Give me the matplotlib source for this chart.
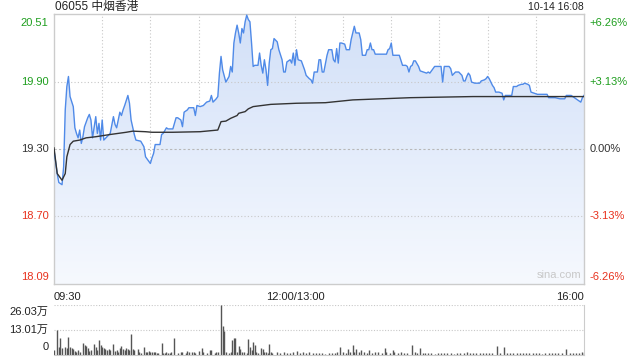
import matplotlib
matplotlib.use("Agg")
import matplotlib.pyplot as plt
import numpy as np
from matplotlib.colors import LinearSegmentedColormap
from matplotlib.patches import Polygon

plt.rcParams['font.family'] = ['Liberation Sans', 'Noto Sans CJK SC', 'DejaVu Sans']

# minutes since 09:30 (lunch break removed: 0..150 morning, 150..330 afternoon)
price_min = [0, 2, 3, 5, 6, 7, 8, 9, 10, 12, 13, 14, 15, 16, 17, 18, 19, 21, 22, 23, 24, 26, 27, 28, 29, 30,
             31, 33, 35, 37, 38, 39, 41, 42, 43, 44, 46, 47, 48, 50, 51, 54, 56, 57, 59, 60, 61, 62, 63, 66,
             67, 68, 70, 71, 74, 76, 77, 79, 80, 81, 83, 84, 87, 88, 89, 91, 93, 95, 97, 98, 99, 101, 102,
             103, 104, 105, 107, 109, 110, 111, 112, 113, 114, 115, 116, 117, 118, 119, 120, 121, 122, 123,
             124, 125, 127, 128, 129, 130, 131, 132, 133, 134, 135, 136, 137, 139, 140, 142, 143, 144, 145,
             147, 148, 149, 150, 151, 152, 154, 156, 157, 159, 160, 161, 162, 164, 165, 166, 167, 168, 170,
             171, 173, 174, 175, 176, 177, 178, 179, 181, 182, 184, 185, 187, 188, 190, 191, 192, 194, 195,
             196, 197, 198, 199, 200, 207, 208, 209, 210, 211, 215, 217, 219, 220, 221, 222, 223, 224, 225,
             227, 228, 230, 232, 233, 234, 235, 237, 241, 242, 243, 246, 247, 248, 250, 252, 254, 255, 256,
             257, 258, 259, 260, 262, 265, 266, 268, 269, 270, 271, 273, 274, 275, 277, 279, 280, 281, 285,
             286, 288, 289, 291, 292, 293, 295, 296, 297, 299, 301, 307, 308, 312, 315, 318, 319, 322, 324,
             325, 327, 328, 329, 330]
price = [19.29, 19.08, 19.00, 18.98, 19.14, 19.65, 19.86, 19.95, 19.77, 19.68, 19.49, 19.44, 19.40, 19.47,
         19.35, 19.41, 19.50, 19.58, 19.61, 19.56, 19.40, 19.59, 19.44, 19.53, 19.38, 19.56, 19.38, 19.41,
         19.44, 19.59, 19.52, 19.49, 19.63, 19.60, 19.65, 19.69, 19.78, 19.71, 19.56, 19.43, 19.38, 19.37,
         19.32, 19.23, 19.19, 19.17, 19.22, 19.26, 19.34, 19.34, 19.43, 19.44, 19.49, 19.48, 19.48, 19.58,
         19.58, 19.56, 19.50, 19.63, 19.65, 19.67, 19.67, 19.60, 19.69, 19.68, 19.69, 19.72, 19.73, 19.78,
         19.72, 19.75, 19.77, 19.98, 20.13, 20.01, 19.90, 19.95, 20.04, 19.99, 20.25, 20.34, 20.41, 20.34,
         20.25, 20.38, 20.34, 20.44, 20.50, 20.46, 20.44, 20.25, 20.04, 20.05, 20.05, 20.16, 20.05, 19.98,
         20.10, 20.01, 19.87, 20.07, 20.19, 20.20, 20.29, 20.26, 20.19, 20.10, 19.99, 19.99, 20.08, 20.10,
         20.07, 20.16, 20.05, 20.19, 20.10, 20.09, 20.01, 19.96, 19.93, 19.92, 19.89, 19.99, 19.99, 20.10,
         20.10, 19.99, 19.99, 20.14, 20.19, 20.19, 20.10, 20.08, 20.20, 20.07, 20.25, 20.25, 20.24, 20.19,
         20.19, 20.28, 20.40, 20.34, 20.34, 20.28, 20.14, 20.14, 20.19, 20.19, 20.25, 20.19, 20.19, 20.15,
         20.15, 20.19, 20.20, 20.25, 20.14, 20.14, 20.05, 20.05, 20.04, 19.99, 20.04, 20.05, 20.09, 20.09,
         20.04, 20.00, 19.99, 19.98, 19.99, 19.98, 20.00, 20.04, 20.04, 19.90, 20.04, 20.04, 20.02, 19.96,
         19.99, 19.99, 19.96, 19.91, 19.91, 19.95, 19.98, 19.96, 19.90, 19.89, 19.89, 19.91, 19.92, 19.93,
         19.95, 19.93, 19.87, 19.85, 19.81, 19.81, 19.80, 19.74, 19.78, 19.78, 19.86, 19.86, 19.87, 19.88,
         19.88, 19.89, 19.88, 19.87, 19.81, 19.80, 19.79, 19.79, 19.76, 19.76, 19.75, 19.75, 19.78, 19.78,
         19.76, 19.75, 19.73, 19.72, 19.76, 19.78]

avg_min = [0, 2, 5, 7, 8, 10, 12, 16, 20, 26, 35, 45, 49, 57, 61, 74, 91, 102, 104, 107, 110, 114, 115,
           119, 121, 124, 135, 151, 169, 186, 222, 261, 330]
avg = [19.31, 19.08, 19.02, 19.08, 19.23, 19.34, 19.37, 19.38, 19.40, 19.41, 19.43, 19.45, 19.46, 19.455,
       19.45, 19.45, 19.455, 19.47, 19.545, 19.55, 19.575, 19.60, 19.62, 19.635, 19.66, 19.68, 19.70, 19.71,
       19.715, 19.74, 19.76, 19.77, 19.77]

# volume in 万 shares
vol_min = [0, 2, 3, 4, 5, 7, 8, 9, 10, 11, 12, 13, 14, 15, 16, 18, 19, 20, 21, 22, 23, 25, 26, 27, 28, 29,
           30, 31, 32, 33, 34, 35, 37, 38, 39, 40, 41, 42, 43, 44, 45, 46, 47, 48, 49, 50, 52, 53, 54, 56,
           57, 58, 59, 60, 61, 62, 63, 64, 65, 67, 68, 69, 70, 71, 72, 73, 75, 77, 79, 80, 82, 83, 84, 86,
           87, 88, 90, 92, 93, 95, 97, 98, 100, 101, 102, 104, 105, 106, 107, 109, 110, 111, 112, 113, 114,
           115, 116, 117, 118, 120, 121, 122, 123, 124, 125, 126, 127, 129, 130, 131, 132, 133, 134, 135,
           136, 139, 141, 143, 145, 147, 149, 151, 153, 155, 157, 159, 161, 163, 165, 167, 169, 171, 173,
           175, 176, 178, 180, 182, 183, 184, 186, 187, 188, 190, 191, 193, 195, 196, 198, 200, 202, 204,
           206, 207, 209, 211, 212, 214, 216, 218, 220, 223, 225, 226, 228, 230, 231, 233, 235, 237, 239,
           241, 243, 245, 247, 249, 251, 253, 255, 257, 259, 261, 263, 265, 267, 269, 271, 273, 276, 278,
           280, 282, 284, 286, 288, 290, 292, 294, 296, 298, 300, 302, 304, 306, 308, 310, 312, 314, 316,
           319, 321, 323, 325, 327, 329, 330]
vol = [2.6, 13.0, 4.3, 9.0, 3.5, 4.3, 3.5, 9.5, 4.0, 3.5, 3.0, 2.0, 1.7, 2.6, 1.4, 6.4, 5.2, 4.7, 3.5, 2.0,
       2.6, 5.6, 4.3, 2.6, 7.8, 5.2, 4.3, 3.5, 3.0, 2.6, 3.0, 2.6, 5.7, 2.0, 2.6, 1.7, 3.5, 4.7, 3.0, 2.6,
       3.5, 3.0, 2.6, 10.9, 3.0, 2.6, 3.0, 1.7, 0.9, 4.3, 1.4, 1.7, 2.0, 1.4, 1.7, 1.7, 1.4, 0.9, 0.9, 6.1,
       0.9, 1.2, 1.4, 1.2, 0.9, 1.4, 8.7, 0.9, 1.4, 1.7, 0.9, 2.0, 1.4, 1.4, 1.7, 0.9, 2.0, 3.5, 1.4, 0.9,
       2.6, 2.6, 0.9, 1.4, 1.7, 26.03, 15.1, 12.7, 1.7, 0.9, 1.4, 7.8, 9.0, 8.7, 1.4, 4.9, 3.0, 1.4, 1.7,
       0.9, 8.2, 4.3, 2.6, 6.6, 5.2, 1.7, 0.9, 3.8, 3.0, 1.7, 1.4, 0.9, 5.6, 1.4, 0.9, 1.7, 0.9, 1.4, 1.2,
       0.9, 1.4, 2.0, 1.2, 1.4, 0.9, 1.4, 1.2, 1.0, 0.8, 1.2, 0.7, 1.0, 1.2, 0.9, 1.4, 4.3, 1.4, 1.0, 3.0,
       1.7, 5.2, 1.7, 3.0, 1.4, 2.6, 1.4, 1.0, 2.6, 0.9, 1.4, 1.4, 0.8, 3.8, 1.4, 1.0, 2.6, 1.7, 0.9, 1.4,
       1.0, 0.8, 5.2, 1.4, 0.9, 3.8, 1.0, 0.9, 0.8, 1.2, 0.7, 1.0, 0.9, 1.2, 0.8, 1.0, 0.7, 1.2, 0.9, 1.0,
       1.4, 0.8, 1.0, 1.2, 0.9, 1.0, 0.8, 1.2, 1.0, 4.7, 1.0, 4.0, 1.2, 0.9, 1.0, 0.8, 1.2, 0.9, 1.0, 0.8,
       1.2, 0.9, 1.0, 0.7, 1.0, 1.2, 0.8, 1.0, 0.9, 1.2, 3.0, 1.0, 0.8, 1.2, 0.9, 1.4, 0.8]

price_ticks = [18.09, 18.70, 19.30, 19.90, 20.51]
price_labels = ['18.09', '18.70', '19.30', '19.90', '20.51']
pct_labels = ['-6.26%', '-3.13%', '0.00%', '+3.13%', '+6.26%']
tick_colors = ['#e8321e', '#e8321e', '#333333', '#1e9e1e', '#1e9e1e']
vol_ticks = [0, 13.01, 26.03]
vol_labels = ['0', '13.01万', '26.03万']
x_labels = ['09:30', '12:00/13:00', '16:00']
title = '06055 中烟香港'
stamp = '10-14 16:08'

fig = plt.figure(figsize=(6.4, 3.6), dpi=100)
ax = fig.add_axes([54/640, 1-284/360, 530/640, 270/360])
axv = fig.add_axes([54/640, 1-355/360, 530/640, 50/360])

ylo, yhi = price_ticks[0], price_ticks[-1]
ax.set_xlim(0, 330)
ax.set_ylim(ylo, yhi)

# gradient fill under price line
verts = np.column_stack([np.r_[price_min[0], price_min, price_min[-1]], np.r_[ylo, price, ylo]])
patch = Polygon(verts, facecolor='none', edgecolor='none')
ax.add_patch(patch)
cmap = LinearSegmentedColormap.from_list('g', ['#f6f9fe', '#d2e0f8'])
grad = np.linspace(0, 1, 256).reshape(-1, 1)
im = ax.imshow(grad, extent=[0, 330, ylo, max(price)], aspect='auto', cmap=cmap, origin='lower', zorder=1)
im.set_clip_path(patch)

# grid
for xv in range(30, 330, 30):
    ax.axvline(xv, color='#c8c8c8', lw=0.8, ls=(0, (1, 2)), zorder=0.5)
for yv in price_ticks[1:-1]:
    ax.axhline(yv, color='#b8b8b8' if yv == 19.30 else '#c8c8c8', lw=0.8,
               ls=(0, (2, 2)) if yv == 19.30 else (0, (1, 2)), zorder=2)

ax.plot(price_min, price, color='#4f8ae8', lw=1.0, zorder=3)
ax.plot(avg_min, avg, color='#333333', lw=1.0, zorder=3)

ax.set_xticks([])
ax.set_yticks([])
for s in ax.spines.values():
    s.set_color('#cccccc')
    s.set_linewidth(1)

# y labels
for i, (v, lab, pl, c) in enumerate(zip(price_ticks, price_labels, pct_labels, tick_colors)):
    va = 'bottom' if i == 0 else ('top' if i == len(price_ticks)-1 else 'center')
    off = 1.5 if i == 0 else (-3 if i == len(price_ticks)-1 else 0)
    ax.annotate(lab, (0, v), xycoords=('axes fraction', 'data'), xytext=(-4, off), textcoords='offset points',
                ha='right', va=va, color=c, fontsize=8)
    ax.annotate(pl, (1, v), xycoords=('axes fraction', 'data'), xytext=(4, off), textcoords='offset points',
                ha='left', va=va, color=c, fontsize=8)

# x labels
for xv, lab, ha in zip([0, 150, 330], x_labels, ['left', 'center', 'right']):
    ax.annotate(lab, (xv, 0), xycoords=('data', 'axes fraction'), xytext=(0, -9), textcoords='offset points',
                ha=ha, va='center', color='#222222', fontsize=8)

ax.text(0.995, 0.015, 'sina.com', transform=ax.transAxes, ha='right', va='bottom', color='#c8c8c8', fontsize=8)
fig.text(55/640, 1-7/360, title, ha='left', va='center', fontsize=8.5, color='#222222')
fig.text(584/640, 1-7/360, stamp, ha='right', va='center', fontsize=7.5, color='#222222')

# volume
axv.set_xlim(0, 330)
axv.set_ylim(0, vol_ticks[-1])
axv.vlines(vol_min, 0, vol, color='#555555', lw=1.0)
for yv in vol_ticks[1:]:
    axv.axhline(yv, color='#c8c8c8', lw=0.8, ls=(0, (1, 1.5)), zorder=0)
axv.set_xticks([])
axv.set_yticks([])
for k, s in axv.spines.items():
    s.set_visible(k in ('right', 'bottom', 'left'))
    s.set_color('#cccccc')
axv.spines['left'].set_visible(False)
for i, (v, lab) in enumerate(zip(vol_ticks, vol_labels)):
    va = 'bottom' if i == 0 else ('top' if i == len(vol_ticks)-1 else 'center')
    off = 2 if i == 0 else (-1.5 if i == len(vol_ticks)-1 else 0)
    axv.annotate(lab, (0, v), xycoords=('axes fraction', 'data'), xytext=(-4, off), textcoords='offset points',
                 ha='right', va=va, color='#222222', fontsize=8)

fig.savefig('out.png', dpi=100)
